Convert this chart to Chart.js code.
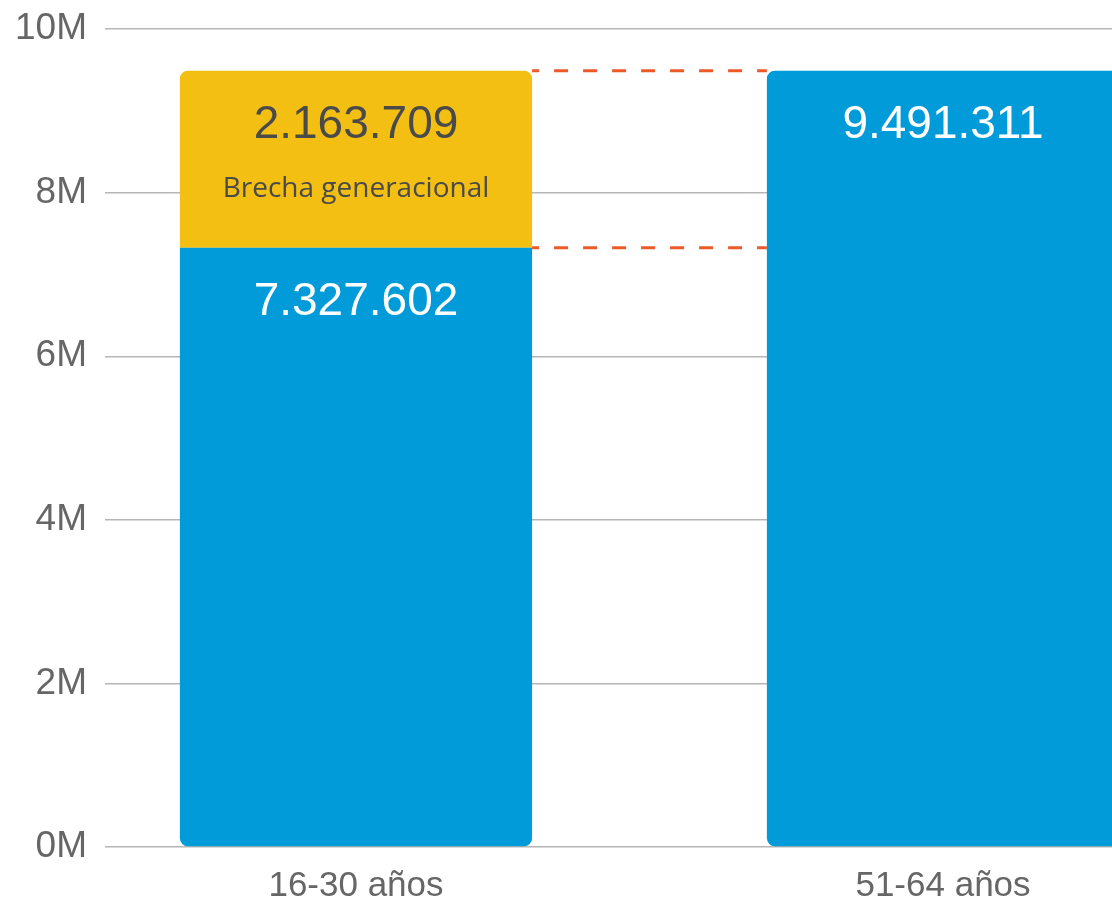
<!DOCTYPE html>
<html lang="es">
<head>
<meta charset="UTF-8" />
<title>Brecha generacional</title>
<script src="https://cdn.jsdelivr.net/npm/chart.js"></script>
<style>
  html, body { margin: 0; padding: 0; background: #fff; }
  #wrap { width: 1112px; height: 905px; position: relative; }
</style>
</head>
<body>
<div id="wrap"><canvas id="chart"></canvas></div>
<script>
  // datos
  const categories = ['16-30 años', '51-64 años'];
  const ocupados = [7327602, 9491311];   // barra azul
  const brecha = [2163709];              // tramo amarillo sobre 16-30
  const brechaLabel = 'Brecha generacional';
  const yTicks = [0, 2000000, 4000000, 6000000, 8000000, 10000000];

  const fmt = v => String(v).replace(/\B(?=(\d{3})+(?!\d))/g, '.');

  // rótulos dentro de las barras
  const barLabels = {
    id: 'barLabels',
    afterDatasetsDraw(chart) {
      const ctx = chart.ctx;
      ctx.save();
      ctx.textAlign = 'center';
      ctx.textBaseline = 'alphabetic';
      chart.getDatasetMeta(0).data.forEach((bar, i) => {
        ctx.fillStyle = '#ffffff';
        ctx.font = '46px "Liberation Sans", Arial, sans-serif';
        ctx.fillText(fmt(ocupados[i]), bar.x, bar.y + 67.5);
      });
      chart.getDatasetMeta(1).data.forEach((bar, i) => {
        ctx.fillStyle = '#4a4a4a';
        ctx.font = '46px "Liberation Sans", Arial, sans-serif';
        ctx.fillText(fmt(brecha[i]), bar.x, bar.y + 67.5);
        ctx.font = '28px "Open Sans", sans-serif';
        ctx.fillText(brechaLabel, bar.x, bar.y + 126);
      });
      ctx.restore();
    }
  };

  const total = ocupados[0] + brecha[0];

  new Chart(document.getElementById('chart'), {
    type: 'bar',
    data: {
      datasets: [
        {
          data: ocupados.map((v, i) => ({ x: i, y: v })),
          backgroundColor: '#009bd8',
          borderWidth: 0,
          borderSkipped: false,
          borderRadius: c => c.dataIndex === 0
            ? { topLeft: 0, topRight: 0, bottomLeft: 8, bottomRight: 8 }
            : 8,
          barPercentage: 0.6,
          categoryPercentage: 1,
          stack: 'bars'
        },
        {
          data: brecha.map((v, i) => ({ x: i, y: v })),
          backgroundColor: '#f2bf12',
          borderWidth: 0,
          borderSkipped: false,
          borderRadius: { topLeft: 8, topRight: 8, bottomLeft: 0, bottomRight: 0 },
          barPercentage: 0.6,
          categoryPercentage: 1,
          stack: 'bars'
        },
        {
          type: 'line',
          data: [{ x: 0.3, y: total }, { x: 0.7, y: total }],
          borderColor: '#ec5a2a',
          borderWidth: 3,
          borderDash: [14, 15],
          borderDashOffset: 7,
          pointRadius: 0,
          stack: 'l1'
        },
        {
          type: 'line',
          data: [{ x: 0.3, y: ocupados[0] }, { x: 0.7, y: ocupados[0] }],
          borderColor: '#ec5a2a',
          borderWidth: 3,
          borderDash: [14, 15],
          borderDashOffset: 7,
          pointRadius: 0,
          stack: 'l2'
        }
      ]
    },
    options: {
      responsive: true,
      maintainAspectRatio: false,
      animation: false,
      layout: { padding: { top: 0, right: 0, left: -3, bottom: -12 } },
      plugins: { legend: { display: false }, tooltip: { enabled: false } },
      scales: {
        x: {
          type: 'linear',
          stacked: true,
          offset: false,
          min: -0.4276,
          max: 1.2879,
          grid: { display: false },
          border: { display: false },
          afterBuildTicks: s => { s.ticks = categories.map((c, i) => ({ value: i })); },
          ticks: {
            autoSkip: false,
            maxRotation: 0,
            padding: 10,
            color: '#666666',
            font: { family: '"Liberation Sans", Arial, sans-serif', size: 35 },
            callback: v => categories[v]
          }
        },
        y: {
          stacked: true,
          min: 0,
          max: 10000000,
          afterBuildTicks: s => { s.ticks = yTicks.map(v => ({ value: v })); },
          grid: { color: '#b5b5b5', lineWidth: 1.5, drawTicks: false },
          border: { display: false },
          ticks: {
            padding: 18,
            color: '#666666',
            font: { family: '"Liberation Sans", Arial, sans-serif', size: 37, lineHeight: 0.6 },
            callback: v => (v / 1000000) + 'M'
          }
        }
      }
    },
    plugins: [barLabels]
  });
</script>
</body>
</html>
